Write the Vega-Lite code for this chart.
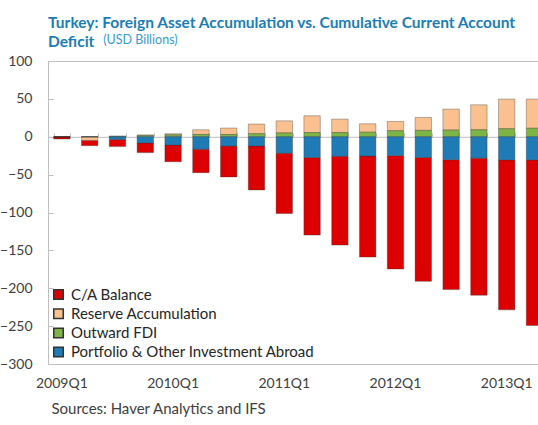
{
  "$schema": "https://vega.github.io/schema/vega-lite/v6.json",
  "autosize": "none",
  "width": 490,
  "height": 303,
  "padding": {"left": 48, "top": 61, "right": 0, "bottom": 61},
  "background": "white",
  "config": {"font": "Lato", "view": {"stroke": null}},
  "title": {
    "text": ["Turkey: Foreign Asset Accumulation vs. Cumulative Current Account", "Deficit"],
    "anchor": "start",
    "frame": "group",
    "font": "Lato",
    "fontSize": 15.5,
    "fontWeight": "bold",
    "color": "#1B7DB5",
    "lineHeight": 19,
    "offset": 8,
    "dy": 25
  },
  "data": {
    "values": [
      {"q": "2009Q1", "s": "C/A Balance", "v": -3.0},
      {"q": "2009Q1", "s": "Reserve Accumulation", "v": 0},
      {"q": "2009Q1", "s": "Outward FDI", "v": 0},
      {"q": "2009Q1", "s": "Portfolio & Other Investment Abroad", "v": 0},
      {"q": "2009Q2", "s": "C/A Balance", "v": -7.0},
      {"q": "2009Q2", "s": "Reserve Accumulation", "v": -4.5},
      {"q": "2009Q2", "s": "Outward FDI", "v": 0.3},
      {"q": "2009Q2", "s": "Portfolio & Other Investment Abroad", "v": -0.3},
      {"q": "2009Q3", "s": "C/A Balance", "v": -9.5},
      {"q": "2009Q3", "s": "Reserve Accumulation", "v": 0.3},
      {"q": "2009Q3", "s": "Outward FDI", "v": 0.5},
      {"q": "2009Q3", "s": "Portfolio & Other Investment Abroad", "v": -3.5},
      {"q": "2009Q4", "s": "C/A Balance", "v": -12.7},
      {"q": "2009Q4", "s": "Reserve Accumulation", "v": 0.5},
      {"q": "2009Q4", "s": "Outward FDI", "v": 1.8},
      {"q": "2009Q4", "s": "Portfolio & Other Investment Abroad", "v": -8.2},
      {"q": "2010Q1", "s": "C/A Balance", "v": -22.0},
      {"q": "2010Q1", "s": "Reserve Accumulation", "v": 1.5},
      {"q": "2010Q1", "s": "Outward FDI", "v": 2.5},
      {"q": "2010Q1", "s": "Portfolio & Other Investment Abroad", "v": -11.0},
      {"q": "2010Q2", "s": "C/A Balance", "v": -31.0},
      {"q": "2010Q2", "s": "Reserve Accumulation", "v": 6.2},
      {"q": "2010Q2", "s": "Outward FDI", "v": 3.0},
      {"q": "2010Q2", "s": "Portfolio & Other Investment Abroad", "v": -16.5},
      {"q": "2010Q3", "s": "C/A Balance", "v": -40.8},
      {"q": "2010Q3", "s": "Reserve Accumulation", "v": 8.5},
      {"q": "2010Q3", "s": "Outward FDI", "v": 3.0},
      {"q": "2010Q3", "s": "Portfolio & Other Investment Abroad", "v": -12.3},
      {"q": "2010Q4", "s": "C/A Balance", "v": -57.9},
      {"q": "2010Q4", "s": "Reserve Accumulation", "v": 12.7},
      {"q": "2010Q4", "s": "Outward FDI", "v": 4.0},
      {"q": "2010Q4", "s": "Portfolio & Other Investment Abroad", "v": -12.3},
      {"q": "2011Q1", "s": "C/A Balance", "v": -79.6},
      {"q": "2011Q1", "s": "Reserve Accumulation", "v": 16.0},
      {"q": "2011Q1", "s": "Outward FDI", "v": 5.0},
      {"q": "2011Q1", "s": "Portfolio & Other Investment Abroad", "v": -21.7},
      {"q": "2011Q2", "s": "C/A Balance", "v": -102.3},
      {"q": "2011Q2", "s": "Reserve Accumulation", "v": 22.2},
      {"q": "2011Q2", "s": "Outward FDI", "v": 5.5},
      {"q": "2011Q2", "s": "Portfolio & Other Investment Abroad", "v": -27.5},
      {"q": "2011Q3", "s": "C/A Balance", "v": -117.2},
      {"q": "2011Q3", "s": "Reserve Accumulation", "v": 17.8},
      {"q": "2011Q3", "s": "Outward FDI", "v": 5.5},
      {"q": "2011Q3", "s": "Portfolio & Other Investment Abroad", "v": -25.8},
      {"q": "2011Q4", "s": "C/A Balance", "v": -133.3},
      {"q": "2011Q4", "s": "Reserve Accumulation", "v": 11.1},
      {"q": "2011Q4", "s": "Outward FDI", "v": 6.0},
      {"q": "2011Q4", "s": "Portfolio & Other Investment Abroad", "v": -25.5},
      {"q": "2012Q1", "s": "C/A Balance", "v": -149.6},
      {"q": "2012Q1", "s": "Reserve Accumulation", "v": 12.2},
      {"q": "2012Q1", "s": "Outward FDI", "v": 8.0},
      {"q": "2012Q1", "s": "Portfolio & Other Investment Abroad", "v": -25.0},
      {"q": "2012Q2", "s": "C/A Balance", "v": -163.4},
      {"q": "2012Q2", "s": "Reserve Accumulation", "v": 17.1},
      {"q": "2012Q2", "s": "Outward FDI", "v": 8.4},
      {"q": "2012Q2", "s": "Portfolio & Other Investment Abroad", "v": -27.4},
      {"q": "2012Q3", "s": "C/A Balance", "v": -171.5},
      {"q": "2012Q3", "s": "Reserve Accumulation", "v": 27.7},
      {"q": "2012Q3", "s": "Outward FDI", "v": 8.8},
      {"q": "2012Q3", "s": "Portfolio & Other Investment Abroad", "v": -30.3},
      {"q": "2012Q4", "s": "C/A Balance", "v": -180.9},
      {"q": "2012Q4", "s": "Reserve Accumulation", "v": 33.0},
      {"q": "2012Q4", "s": "Outward FDI", "v": 9.2},
      {"q": "2012Q4", "s": "Portfolio & Other Investment Abroad", "v": -28.3},
      {"q": "2013Q1", "s": "C/A Balance", "v": -197.9},
      {"q": "2013Q1", "s": "Reserve Accumulation", "v": 39.1},
      {"q": "2013Q1", "s": "Outward FDI", "v": 10.6},
      {"q": "2013Q1", "s": "Portfolio & Other Investment Abroad", "v": -30.6},
      {"q": "2013Q2", "s": "C/A Balance", "v": -218.5},
      {"q": "2013Q2", "s": "Reserve Accumulation", "v": 38.5},
      {"q": "2013Q2", "s": "Outward FDI", "v": 11.2},
      {"q": "2013Q2", "s": "Portfolio & Other Investment Abroad", "v": -30.6}
    ]
  },
  "transform": [
    {"calculate": "indexof(['Portfolio & Other Investment Abroad', 'Outward FDI', 'Reserve Accumulation', 'C/A Balance'], datum.s)", "as": "ord"}
  ],
  "layer": [
    {
      "mark": {"type": "bar", "stroke": "#333333", "strokeOpacity": 0.35, "strokeWidth": 1},
      "encoding": {
        "x": {
          "field": "q", "type": "ordinal", "sort": null,
          "scale": {"range": [0, 500.4], "paddingInner": 0.41, "paddingOuter": 0.205},
          "axis": {
            "orient": "bottom",
            "values": ["2009Q1", "2010Q1", "2011Q1", "2012Q1", "2013Q1"],
            "labelAngle": 0, "ticks": false,
            "domainColor": "#BFBFBF",
            "labelFont": "Lato", "labelFontSize": 14, "labelColor": "#404040", "labelPadding": 12,
            "title": "Sources: Haver Analytics and IFS",
            "titleAnchor": "start", "titleFont": "Lato", "titleFontWeight": "normal",
            "titleFontSize": 15, "titleColor": "#404040", "titlePadding": 11, "titleX": 3
          }
        },
        "y": {
          "field": "v", "type": "quantitative", "stack": "zero",
          "scale": {"domain": [-300, 100], "nice": false},
          "axis": {
            "values": [-300, -250, -200, -150, -100, -50, 0, 50, 100],
            "domainColor": "#BFBFBF", "tickColor": "#BFBFBF", "tickSize": -5,
            "labelFont": "Lato", "labelFontSize": 14, "labelColor": "#404040", "labelPadding": 21,
            "title": "(USD Billions)",
            "titleAngle": 0, "titleX": 54.7, "titleY": -18, "titleAlign": "left", "titleBaseline": "alphabetic",
            "titleFont": "Lato", "titleFontWeight": "normal", "titleFontSize": 12.5, "titleColor": "#3B9AD0",
            "grid": true, "gridColor": "#BFBFBF",
            "gridOpacity": {"condition": {"test": "datum.value == 100", "value": 1}, "value": 0}
          }
        },
        "color": {
          "field": "s", "type": "nominal",
          "scale": {
            "domain": ["C/A Balance", "Reserve Accumulation", "Outward FDI", "Portfolio & Other Investment Abroad"],
            "range": ["#DD0000", "#FBC08F", "#7DB544", "#1F7BB6"]
          },
          "legend": {
            "orient": "bottom-left", "offset": 3, "title": null, "padding": 0,
            "symbolType": "square", "symbolSize": 90,
            "labelFont": "Lato", "labelFontSize": 15, "labelColor": "#262626", "labelLimit": 0,
            "rowPadding": 2.2, "labelOffset": 5
          }
        },
        "order": {"field": "ord", "type": "quantitative"}
      }
    },
    {
      "mark": {"type": "point", "opacity": 0},
      "encoding": {
        "x": {
          "field": "q", "type": "ordinal", "sort": null,
          "axis": {
            "orient": "top", "offset": -75.8, "labels": false, "tickBand": "extent",
            "tickSize": 4, "domainColor": "#BFBFBF", "tickColor": "#BFBFBF", "title": null
          }
        }
      }
    }
  ],
  "resolve": {"axis": {"x": "independent"}}
}
